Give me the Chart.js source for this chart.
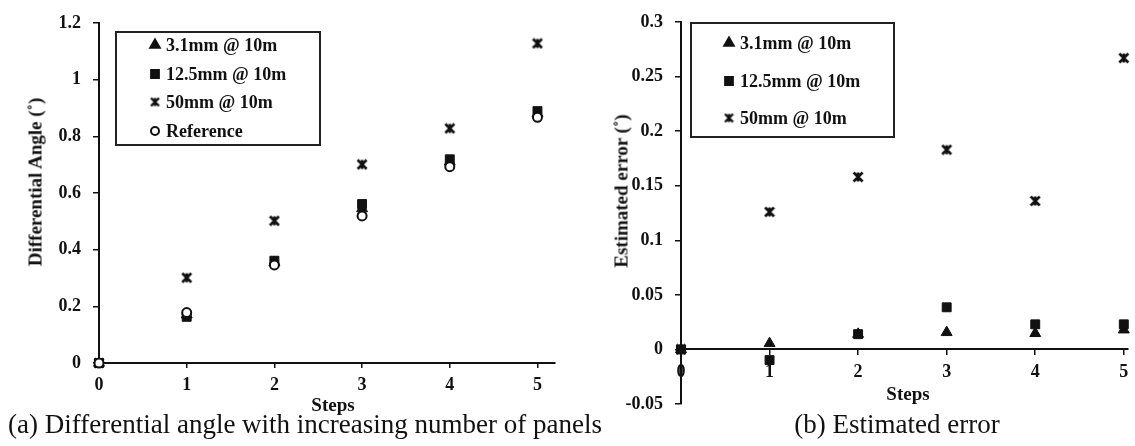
<!DOCTYPE html>
<html>
<head>
<meta charset="utf-8">
<script src="https://cdn.jsdelivr.net/npm/chart.js@4.4.1/dist/chart.umd.min.js"></script>
<style>
  html, body { margin: 0; padding: 0; background: #fff; }
  body { width: 1135px; height: 446px; position: relative; overflow: hidden; font-family: 'Liberation Serif', serif; color: #111; }
  canvas { position: absolute; top: 0; }
  #left { left: 0; }
  #right { left: 567px; }
  .t { position: absolute; white-space: nowrap; font-weight: bold; font-size: 19px; line-height: 19px; transform: translate(-50%, -50%); }
  .t.rot { transform: translate(-50%, -50%) rotate(-90deg); }
  .cap { position: absolute; white-space: nowrap; font-size: 27px; line-height: 27px; transform: translateX(-50%); }
</style>
</head>
<body>
<canvas id="left" width="567" height="446"></canvas>
<canvas id="right" width="568" height="446"></canvas>

<div class="t rot" style="left:35px; top:182px;">Differential Angle (˚)</div>
<div class="t" style="left:333px; top:404px;">Steps</div>
<div class="cap" style="left:305px; top:411px;">(a) Differential angle with increasing number of panels</div>

<div class="t rot" style="left:621px; top:191px;">Estimated error (˚)</div>
<div class="t" style="left:908px; top:393px;">Steps</div>
<div class="cap" style="left:897px; top:411px;">(b) Estimated error</div>

<script>
// data
const steps = [0, 1, 2, 3, 4, 5];
const stepLabels = ['0', '1', '2', '3', '4', '5'];

const angle31 = [0, 0.17, 0.355, 0.545, 0.71, 0.88];
const angle125 = [0, 0.163, 0.361, 0.561, 0.719, 0.889];
const angle50 = [0, 0.301, 0.502, 0.701, 0.828, 1.128];
const angleRef = [0, 0.178, 0.346, 0.519, 0.693, 0.867];
const angleTicks = [0, 0.2, 0.4, 0.6, 0.8, 1, 1.2];
const angleTickLabels = ['0', '0.2', '0.4', '0.6', '0.8', '1', '1.2'];

const err31 = [0, 0.0055, 0.014, 0.0156, 0.0147, 0.018];
const err125 = [0, -0.0098, 0.014, 0.0386, 0.023, 0.023];
const err50 = [0, 0.126, 0.158, 0.183, 0.136, 0.267];
const errTicks = [-0.05, 0, 0.05, 0.1, 0.15, 0.2, 0.25, 0.3];
const errTickLabels = ['-0.05', '0', '0.05', '0.1', '0.15', '0.2', '0.25', '0.3'];

const ink = '#111';
Chart.defaults.font.family = "'Liberation Serif', serif";
Chart.defaults.font.weight = 'bold';
Chart.defaults.color = ink;

// excel style "star": an x with a vertical bar through it
function starMarker(size, lw) {
    const c = document.createElement('canvas');
    c.width = size;
    c.height = size;
    const g = c.getContext('2d');
    const a = 1.5, b = size - 1.5, m = size / 2;
    g.strokeStyle = ink;
    g.lineWidth = lw;
    g.beginPath();
    g.moveTo(a, a); g.lineTo(b, b);
    g.moveTo(b, a); g.lineTo(a, b);
    g.moveTo(m, a); g.lineTo(m, b);
    g.stroke();
    return c;
}
const star = starMarker(12, 2.6);
const starSmall = starMarker(11, 2.4);

function points(ys) {
    return steps.map((x, i) => ({x: x, y: ys[i]}));
}

function series(label, ys, style, order) {
    const open = style === 'circle';
    return {
        label: label,
        data: points(ys),
        pointStyle: style === 'star' ? star : style,
        pointRadius: open ? 4.5 : 6.3,
        pointHoverRadius: open ? 4.5 : 6.3,
        pointBackgroundColor: open ? '#fff' : ink,
        pointBorderColor: ink,
        pointBorderWidth: open ? 2 : 1,
        showLine: false,
        clip: false,
        order: order
    };
}

// boxed legend drawn inside the plot, like the original
const boxLegend = {
    id: 'boxLegend',
    afterDraw(chart, args, opts) {
        const ctx = chart.ctx;
        ctx.save();
        ctx.fillStyle = '#fff';
        ctx.fillRect(opts.x, opts.y, opts.w, opts.h);
        ctx.lineWidth = 2;
        ctx.strokeStyle = '#222';
        ctx.strokeRect(opts.x, opts.y, opts.w, opts.h);
        ctx.font = "bold 18px 'Liberation Serif'";
        ctx.textBaseline = 'middle';
        opts.items.forEach((it, i) => {
            const y = opts.rows[i];
            ctx.fillStyle = it.style === 'circle' ? '#fff' : ink;
            ctx.strokeStyle = ink;
            const style = it.style === 'star' ? starSmall : it.style;
            Chart.helpers.drawPoint(ctx, {
                pointStyle: style,
                radius: it.style === 'circle' ? 4 : 5.5,
                borderWidth: it.style === 'circle' ? 2 : 1,
                rotation: 0
            }, opts.markX, y);
            ctx.fillStyle = ink;
            ctx.fillText(it.text, opts.textX, y + 1);
        });
        ctx.restore();
    }
};

const tickFont = {size: 18, weight: 'bold'};

new Chart(document.getElementById('left'), {
    type: 'scatter',
    data: {
        datasets: [
            series('3.1mm @ 10m', angle31, 'triangle', 2),
            series('12.5mm @ 10m', angle125, 'rect', 1),
            series('50mm @ 10m', angle50, 'star', 3),
            series('Reference', angleRef, 'circle', 0)
        ]
    },
    options: {
        responsive: false,
        animation: false,
        events: [],
        layout: {padding: {top: 23, right: 12, bottom: 0, left: 0}},
        plugins: {
            legend: {display: false},
            tooltip: {enabled: false},
            boxLegend: {
                x: 116, y: 32, w: 204, h: 113,
                markX: 155, textX: 166,
                rows: [45, 74, 102, 131],
                items: [
                    {style: 'triangle', text: '3.1mm @ 10m'},
                    {style: 'rect', text: '12.5mm @ 10m'},
                    {style: 'star', text: '50mm @ 10m'},
                    {style: 'circle', text: 'Reference'}
                ]
            }
        },
        scales: {
            x: {
                type: 'linear', min: 0, max: 5.2,
                afterBuildTicks: s => { s.ticks = steps.map(v => ({value: v})); },
                afterFit: s => { s.height = 83; s.paddingLeft = 0; s.paddingRight = 0; },
                ticks: {font: tickFont, padding: 7, maxRotation: 0, autoSkip: false,
                    callback: (v, i) => stepLabels[i]},
                grid: {drawOnChartArea: false, tickLength: 5, color: ink, lineWidth: 1.5},
                border: {color: ink, width: 2}
            },
            y: {
                type: 'linear', min: 0, max: 1.2,
                afterBuildTicks: s => { s.ticks = angleTicks.map(v => ({value: v})); },
                afterFit: s => { s.width = 99; s.paddingTop = 0; s.paddingBottom = 0; },
                ticks: {font: tickFont, padding: 12, autoSkip: false,
                    callback: (v, i) => angleTickLabels[i]},
                grid: {drawOnChartArea: false, tickLength: 6, color: ink, lineWidth: 1.5},
                border: {color: ink, width: 2}
            }
        }
    },
    plugins: [boxLegend]
});

new Chart(document.getElementById('right'), {
    type: 'scatter',
    data: {
        datasets: [
            series('3.1mm @ 10m', err31, 'triangle', 1),
            series('12.5mm @ 10m', err125, 'rect', 0),
            series('50mm @ 10m', err50, 'star', 2)
        ]
    },
    options: {
        responsive: false,
        animation: false,
        events: [],
        layout: {padding: {top: 22, right: 0, bottom: 42, left: 0}},
        plugins: {
            legend: {display: false},
            tooltip: {enabled: false},
            boxLegend: {
                x: 124, y: 23, w: 203, h: 114,
                markX: 162, textX: 173,
                rows: [43, 81, 118],
                items: [
                    {style: 'triangle', text: '3.1mm @ 10m'},
                    {style: 'rect', text: '12.5mm @ 10m'},
                    {style: 'star', text: '50mm @ 10m'}
                ]
            }
        },
        scales: {
            x: {
                type: 'linear', min: 0, max: 5.044,
                position: {y: 0},
                afterBuildTicks: s => { s.ticks = steps.map(v => ({value: v})); },
                afterFit: s => { s.height = 0; s.paddingLeft = 0; s.paddingRight = 0; },
                ticks: {font: tickFont, padding: 7, maxRotation: 0, autoSkip: false,
                    callback: (v, i) => stepLabels[i]},
                grid: {drawOnChartArea: false, tickLength: 5, color: ink, lineWidth: 1.5},
                border: {color: ink, width: 2}
            },
            y: {
                type: 'linear', min: -0.05, max: 0.3,
                afterBuildTicks: s => { s.ticks = errTicks.map(v => ({value: v})); },
                afterFit: s => { s.width = 114; s.paddingTop = 0; s.paddingBottom = 0; },
                ticks: {font: tickFont, padding: 12, autoSkip: false,
                    callback: (v, i) => errTickLabels[i]},
                grid: {drawOnChartArea: false, tickLength: 6, color: ink, lineWidth: 1.5},
                border: {color: ink, width: 2}
            }
        }
    },
    plugins: [boxLegend]
});
</script>
</body>
</html>
